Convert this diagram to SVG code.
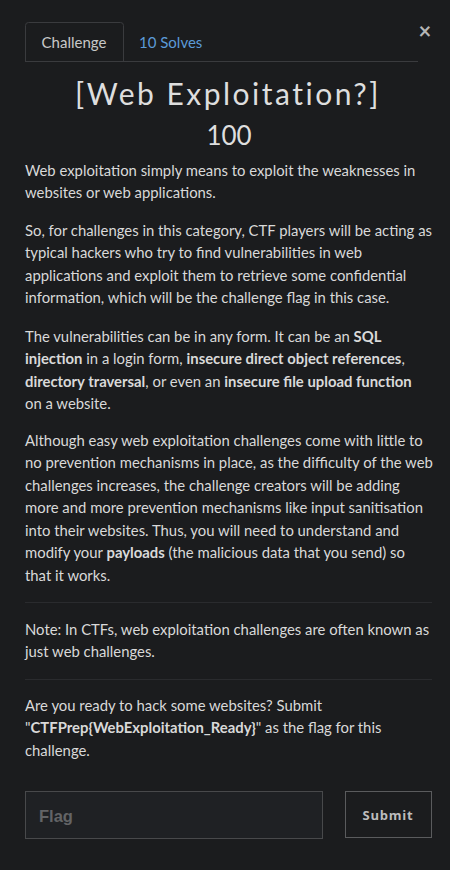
<svg xmlns="http://www.w3.org/2000/svg" width="450" height="870" viewBox="0 0 450 870">
<style>
.bg{fill:#1b1c1e}
.t{font-family:Lato,"Noto Sans",sans-serif;font-size:14.85px;fill:#d9d9d9}
.b{font-weight:bold}
.sep{stroke:#2a2b2e;stroke-width:1}
</style>
<rect class="bg" x="0" y="0" width="450" height="870"/>
<g id="tabs">
  <path d="M25.5 61V25.5a3 3 0 0 1 3-3H120.5a3 3 0 0 1 3 3V61" fill="#1b1c1e" stroke="#3a3b3e"/>
  <line x1="25" y1="61.5" x2="418" y2="61.5" stroke="#3a3b3e"/>
  <text class="t" x="74" y="48" text-anchor="middle" style="font-size:15px;fill:#c8c8c8">Challenge</text>
  <text class="t" x="139" y="48" style="font-size:15px;fill:#5c9ad8">10 Solves</text>
  <text x="425" y="39" text-anchor="middle" font-family="Lato,sans-serif" font-size="22" font-weight="bold" fill="#b5b5b5">×</text>
</g>
<g id="title">
  <text x="228" y="105" text-anchor="middle" font-family="Lato,'Open Sans',sans-serif" font-size="30" letter-spacing="2.5" fill="#dedede">[Web Exploitation?]</text>
  <text x="229" y="145" text-anchor="middle" font-family="Lato,sans-serif" font-size="26" fill="#dedede">100</text>
</g>
<g id="description">
  <text class="t" x="25" y="176">Web exploitation simply means to exploit the weaknesses in</text>
  <text class="t" x="25" y="198">websites or web applications.</text>
  <text class="t" x="25" y="236">So, for challenges in this category, CTF players will be acting as</text>
  <text class="t" x="25" y="258">typical hackers who try to find vulnerabilities in web</text>
  <text class="t" x="25" y="281">applications and exploit them to retrieve some confidential</text>
  <text class="t" x="25" y="303">information, which will be the challenge flag in this case.</text>
  <text class="t" x="25" y="342">The vulnerabilities can be in any form. It can be an <tspan class="b">SQL</tspan></text>
  <text class="t" x="25" y="364"><tspan class="b">injection</tspan> in a login form, <tspan class="b">insecure direct object references</tspan>,</text>
  <text class="t" x="25" y="387"><tspan class="b">directory traversal</tspan>, or even an <tspan class="b">insecure file upload function</tspan></text>
  <text class="t" x="25" y="409">on a website.</text>
  <text class="t" x="25" y="446">Although easy web exploitation challenges come with little to</text>
  <text class="t" x="25" y="468">no prevention mechanisms in place, as the difficulty of the web</text>
  <text class="t" x="25" y="491">challenges increases, the challenge creators will be adding</text>
  <text class="t" x="25" y="513">more and more prevention mechanisms like input sanitisation</text>
  <text class="t" x="25" y="536">into their websites. Thus, you will need to understand and</text>
  <text class="t" x="25" y="558">modify your <tspan class="b">payloads</tspan> (the malicious data that you send) so</text>
  <text class="t" x="25" y="581">that it works.</text>
  <line class="sep" x1="25" y1="602.5" x2="432" y2="602.5"/>
  <text class="t" x="25" y="635">Note: In CTFs, web exploitation challenges are often known as</text>
  <text class="t" x="25" y="657">just web challenges.</text>
  <line class="sep" x1="25" y1="679.5" x2="432" y2="679.5"/>
  <text class="t" x="25" y="711">Are you ready to hack some websites? Submit</text>
  <text class="t" x="25" y="733">"<tspan class="b">CTFPrep{WebExploitation_Ready}</tspan>" as the flag for this</text>
  <text class="t" x="25" y="756">challenge.</text>
</g>
<g id="flag-input">
  <rect x="25.5" y="791.5" width="297" height="47" fill="#1f2124" stroke="#48494b"/>
  <text x="39" y="822" font-family="'Liberation Sans',Arial,sans-serif" font-size="16.5" font-weight="bold" fill="#636466">Flag</text>
</g>
<g id="submit">
  <rect x="345.5" y="791.5" width="86" height="46" fill="#1b1c1e" stroke="#5a5b5d"/>
  <text x="388" y="820" text-anchor="middle" font-family="'Open Sans',sans-serif" font-size="13" font-weight="bold" letter-spacing="0.8" fill="#bdbdbd">Submit</text>
</g>
</svg>
